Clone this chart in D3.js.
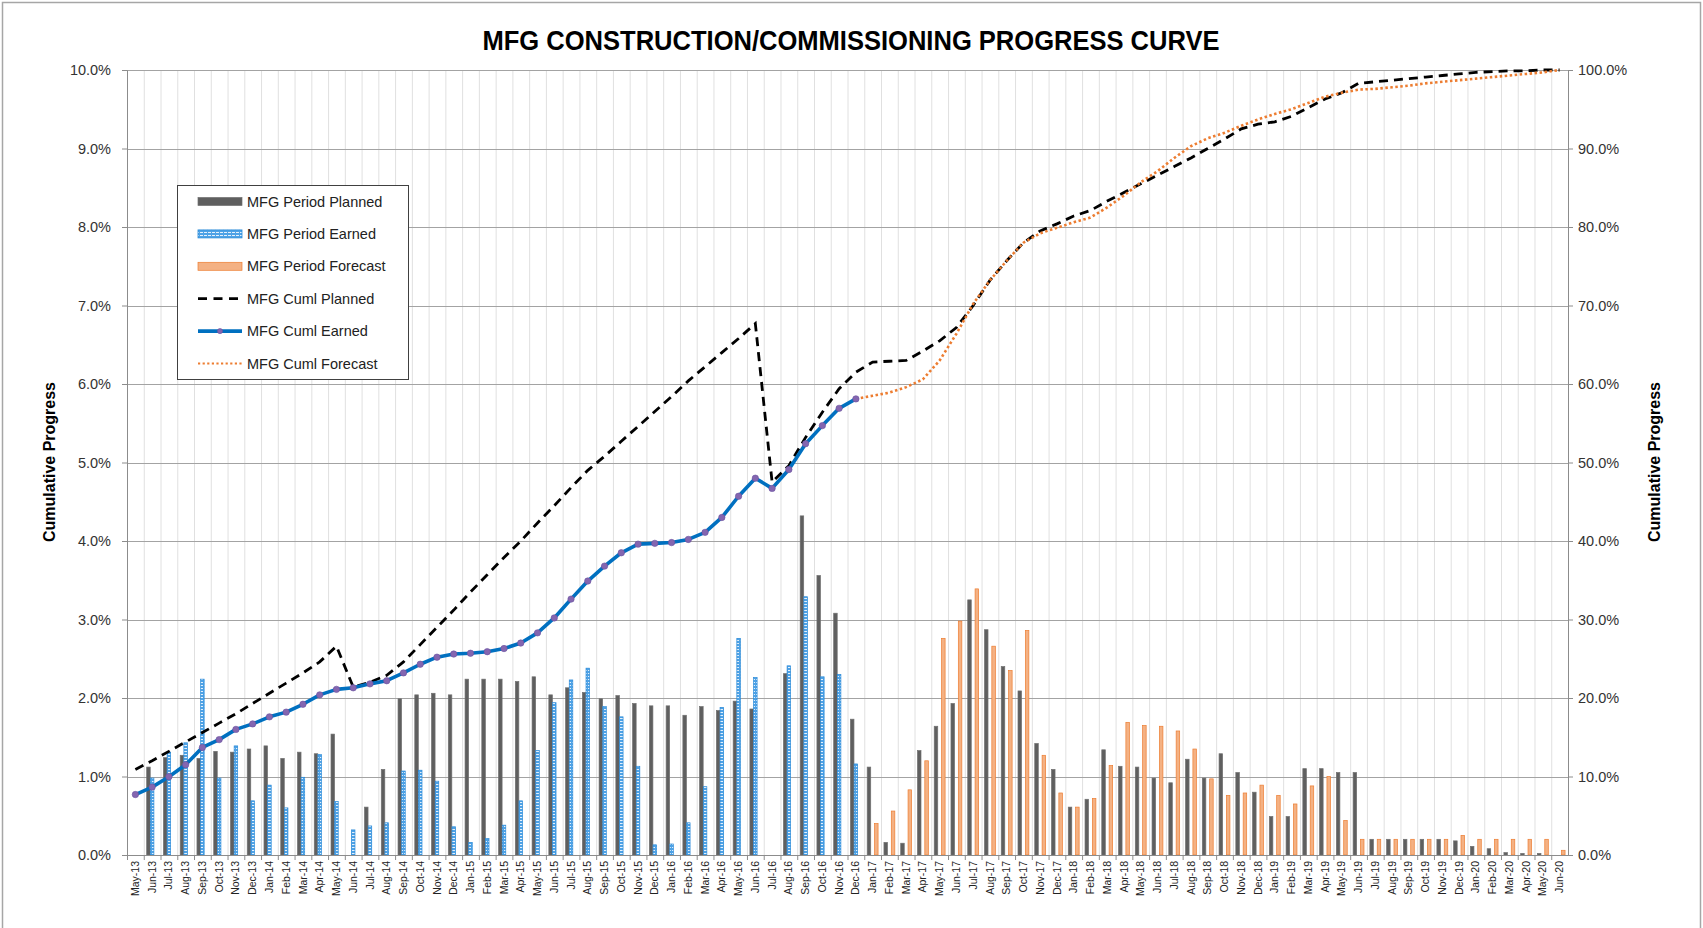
<!DOCTYPE html>
<html>
<head>
<meta charset="utf-8">
<script src="https://cdn.jsdelivr.net/npm/d3@7"></script>
<style>
body { margin: 0; background: #fff; }
svg { display: block; font-family: 'Liberation Sans', Arial, sans-serif; }
</style>
</head>
<body>
<script>
// month categories
const months = [
	'May-13','Jun-13','Jul-13','Aug-13','Sep-13','Oct-13','Nov-13','Dec-13',
	'Jan-14','Feb-14','Mar-14','Apr-14','May-14','Jun-14','Jul-14','Aug-14','Sep-14','Oct-14','Nov-14','Dec-14',
	'Jan-15','Feb-15','Mar-15','Apr-15','May-15','Jun-15','Jul-15','Aug-15','Sep-15','Oct-15','Nov-15','Dec-15',
	'Jan-16','Feb-16','Mar-16','Apr-16','May-16','Jun-16','Jul-16','Aug-16','Sep-16','Oct-16','Nov-16','Dec-16',
	'Jan-17','Feb-17','Mar-17','Apr-17','May-17','Jun-17','Jul-17','Aug-17','Sep-17','Oct-17','Nov-17','Dec-17',
	'Jan-18','Feb-18','Mar-18','Apr-18','May-18','Jun-18','Jul-18','Aug-18','Sep-18','Oct-18','Nov-18','Dec-18',
	'Jan-19','Feb-19','Mar-19','Apr-19','May-19','Jun-19','Jul-19','Aug-19','Sep-19','Oct-19','Nov-19','Dec-19',
	'Jan-20','Feb-20','Mar-20','Apr-20','May-20','Jun-20'
]

// period values, % (left axis)
const periodPlanned = [
	null,1.12,1.24,1.27,1.23,1.32,1.31,1.35,
	1.39,1.23,1.31,1.29,1.54,null,0.61,1.09,1.99,2.04,2.06,2.04,
	2.24,2.24,2.24,2.21,2.27,2.04,2.13,2.07,1.99,2.03,1.93,1.90,
	1.90,1.78,1.89,1.84,1.96,1.86,null,2.31,4.32,3.56,3.08,1.73,
	1.12,0.16,0.15,1.33,1.64,1.93,3.25,2.87,2.40,2.09,1.42,1.09,
	0.61,0.71,1.34,1.13,1.12,0.98,0.92,1.22,0.98,1.29,1.05,0.80,
	0.49,0.49,1.10,1.10,1.05,1.05,0.20,0.20,0.20,0.20,0.20,0.18,
	0.11,0.08,0.03,0.02,0.02,null
]
const periodEarned = [
	null,0.98,1.31,1.43,2.24,0.98,1.39,0.69,
	0.89,0.60,0.99,1.28,0.68,0.32,0.37,0.41,1.07,1.08,0.94,0.36,
	0.16,0.21,0.38,0.69,1.33,1.94,2.23,2.38,1.89,1.76,1.13,0.13,
	0.14,0.41,0.87,1.88,2.76,2.26,null,2.41,3.29,2.27,2.30,1.16,
	null,null,null,null,null,null,null,null,null,null,null,null,
	null,null,null,null,null,null,null,null,null,null,null,null,
	null,null,null,null,null,null,null,null,null,null,null,null,
	null,null,null,null,null,null
]
const periodForecast = [
	null,null,null,null,null,null,null,null,
	null,null,null,null,null,null,null,null,null,null,null,null,
	null,null,null,null,null,null,null,null,null,null,null,null,
	null,null,null,null,null,null,null,null,null,null,null,null,
	0.40,0.56,0.83,1.20,2.76,2.98,3.39,2.66,2.35,2.86,1.27,0.79,
	0.61,0.72,1.14,1.69,1.65,1.64,1.58,1.35,0.97,0.76,0.79,0.89,
	0.76,0.65,0.88,1.00,0.44,0.20,0.20,0.20,0.20,0.20,0.20,0.25,
	0.20,0.20,0.20,0.20,0.20,0.06
]

// cumulative values, % (right axis)
const cumlPlanned = [
	10.9,12.0,13.2,14.4,15.6,16.8,18.0,19.3,
	20.6,21.9,23.2,24.6,26.6,21.4,22.0,22.9,24.6,26.8,29.0,31.2,
	33.5,35.7,37.9,40.0,42.3,44.5,46.8,49.0,50.8,52.7,54.6,56.5,
	58.4,60.4,62.2,64.0,65.8,67.7,47.5,49.6,53.2,56.4,59.4,61.5,
	62.8,62.9,63.0,64.2,65.5,67.2,70.0,73.2,75.7,78.0,79.5,80.4,
	81.4,82.1,83.3,84.4,85.5,86.6,87.7,88.8,90.0,91.2,92.5,93.1,
	93.4,94.1,95.2,96.3,97.1,98.3,98.5,98.7,98.9,99.1,99.3,99.5,
	99.7,99.8,99.9,99.9,100,100
]
const cumlEarned = [
	7.7,8.65,9.97,11.5,13.7,14.7,16.0,16.7,
	17.6,18.2,19.2,20.4,21.1,21.3,21.8,22.2,23.2,24.3,25.2,25.6,
	25.7,25.9,26.3,27.0,28.3,30.2,32.6,34.9,36.8,38.5,39.6,39.7,
	39.8,40.2,41.1,43.0,45.7,48.0,46.7,49.1,52.4,54.7,56.9,58.1,
	null,null,null,null,null,null,null,null,null,null,null,null,
	null,null,null,null,null,null,null,null,null,null,null,null,
	null,null,null,null,null,null,null,null,null,null,null,null,
	null,null,null,null,null,null
]
const cumlForecast = [
	null,null,null,null,null,null,null,null,
	null,null,null,null,null,null,null,null,null,null,null,null,
	null,null,null,null,null,null,null,null,null,null,null,null,
	null,null,null,null,null,null,null,null,null,null,null,58.1,
	58.5,58.9,59.6,60.6,63.0,66.4,70.2,73.2,75.7,78.0,79.2,79.9,
	80.6,81.2,82.5,84.0,85.7,87.1,88.8,90.3,91.3,92.0,92.9,93.7,
	94.4,95.0,95.8,96.6,97.1,97.5,97.6,97.8,98.0,98.3,98.5,98.7,
	98.9,99.1,99.3,99.5,99.7,100
]

const leftTicks = [0,1,2,3,4,5,6,7,8,9,10]
const rightTicks = [0,10,20,30,40,50,60,70,80,90,100]
const legendNames = ['MFG Period Planned','MFG Period Earned','MFG Period Forecast','MFG Cuml Planned','MFG Cuml Earned','MFG Cuml Forecast']

const width = 1703
const height = 928
const plot = {left: 127, right: 1568, top: 70, bottom: 855}

const svg = d3.select('body').append('svg')
	.attr('width', width)
	.attr('height', height)

const defs = svg.append('defs')
const pat = defs.append('pattern')
	.attr('id', 'earnedFill')
	.attr('patternUnits', 'userSpaceOnUse')
	.attr('width', 4)
	.attr('height', 3)
pat.append('rect').attr('width', 4).attr('height', 3).attr('fill', '#4ea2e6')
pat.append('rect').attr('y', 1).attr('width', 3).attr('height', 1).attr('fill', '#e4f1fc')

// chart area border
svg.append('rect')
	.attr('x', 2.5).attr('y', 2.5)
	.attr('width', width - 5).attr('height', height + 10)
	.attr('fill', 'none')
	.attr('stroke', '#a6a6a6')
	.attr('stroke-width', 1.5)

const x = d3.scaleBand()
	.domain(months)
	.range([plot.left, plot.right])

const sub = d3.scaleBand()
	.domain(['planned', 'earned', 'forecast'])
	.range([0, x.bandwidth()])
	.paddingInner(0.04)
	.paddingOuter(0.8)

const yL = d3.scaleLinear().domain([0, 10]).range([plot.bottom, plot.top])
const yR = d3.scaleLinear().domain([0, 100]).range([plot.bottom, plot.top])

// vertical category gridlines
svg.append('g')
	.selectAll('line')
	.data(months.slice(1))
	.join('line')
		.attr('x1', d => x(d) + 0.5)
		.attr('x2', d => x(d) + 0.5)
		.attr('y1', plot.top)
		.attr('y2', plot.bottom)
		.attr('stroke', '#e0e0e0')
		.attr('stroke-width', 1)

// horizontal gridlines
svg.append('g')
	.selectAll('line')
	.data(leftTicks.slice(1))
	.join('line')
		.attr('x1', plot.left)
		.attr('x2', plot.right)
		.attr('y1', d => Math.round(yL(d)) + 0.5)
		.attr('y2', d => Math.round(yL(d)) + 0.5)
		.attr('stroke', '#a3a3a3')
		.attr('stroke-width', 1.2)

// bars
const rows = months.map((m, i) => ({
	m,
	planned: periodPlanned[i],
	earned: periodEarned[i],
	forecast: periodForecast[i]
}))

const barStyle = {
	planned: {fill: '#5f5f5f', stroke: '#707070'},
	earned: {fill: 'url(#earnedFill)', stroke: '#2a8ad8'},
	forecast: {fill: '#f4b183', stroke: '#ed7d31'}
}

;['planned', 'earned', 'forecast'].forEach(key => {
	svg.append('g')
		.selectAll('rect')
		.data(rows.filter(d => d[key] != null && d[key] > 0))
		.join('rect')
			.attr('x', d => x(d.m) + sub(key))
			.attr('width', sub.bandwidth())
			.attr('y', d => yL(d[key]))
			.attr('height', d => yL(0) - yL(d[key]))
			.attr('fill', barStyle[key].fill)
			.attr('stroke', barStyle[key].stroke)
			.attr('stroke-width', 0.7)
})

// axes
const xAxis = d3.axisBottom(x).tickSize(0).tickPadding(0)
const gx = svg.append('g')
	.attr('transform', `translate(0,${plot.bottom})`)
	.call(xAxis)
gx.select('.domain').attr('stroke', '#8c8c8c')
gx.selectAll('text')
	.attr('transform', 'rotate(-90)')
	.attr('text-anchor', 'end')
	.attr('x', -6)
	.attr('y', 0)
	.attr('dy', '0.34em')
	.attr('font-size', 10.5)
	.attr('font-family', "'Liberation Sans', Arial, sans-serif")
	.attr('fill', '#222')

svg.append('g')
	.selectAll('line')
	.data(months)
	.join('line')
		.attr('x1', d => x(d) + 0.5)
		.attr('x2', d => x(d) + 0.5)
		.attr('y1', plot.bottom)
		.attr('y2', plot.bottom + 5)
		.attr('stroke', '#8c8c8c')

const gl = svg.append('g')
	.attr('transform', `translate(${plot.left},0)`)
	.call(d3.axisLeft(yL).tickValues(leftTicks).tickFormat(d => d.toFixed(1) + '%').tickSize(5).tickPadding(11))
const gr = svg.append('g')
	.attr('transform', `translate(${plot.right},0)`)
	.call(d3.axisRight(yR).tickValues(rightTicks).tickFormat(d => d.toFixed(1) + '%').tickSize(5).tickPadding(5))

;[gl, gr].forEach(g => {
	g.select('.domain').attr('stroke', '#8c8c8c')
	g.selectAll('.tick line').attr('stroke', '#8c8c8c')
	g.selectAll('text')
		.attr('font-size', 14.5)
		.attr('font-family', "'Liberation Sans', Arial, sans-serif")
		.attr('fill', '#333')
})

// cumulative lines
const cx = i => x(months[i]) + x.bandwidth() / 2
const line = d3.line()
	.defined(d => d.v != null)
	.x(d => cx(d.i))
	.y(d => yR(d.v))

const toPts = arr => arr.map((v, i) => ({i, v}))

svg.append('path')
	.datum(toPts(cumlPlanned))
	.attr('d', line)
	.attr('fill', 'none')
	.attr('stroke', '#000')
	.attr('stroke-width', 2.8)
	.attr('stroke-dasharray', '9,6')

svg.append('path')
	.datum(toPts(cumlForecast))
	.attr('d', line)
	.attr('fill', 'none')
	.attr('stroke', '#ed7d31')
	.attr('stroke-width', 2.6)
	.attr('stroke-dasharray', '2.5,2.5')

svg.append('path')
	.datum(toPts(cumlEarned))
	.attr('d', line)
	.attr('fill', 'none')
	.attr('stroke', '#0070c0')
	.attr('stroke-width', 3.6)
	.attr('stroke-linejoin', 'round')

svg.append('g')
	.selectAll('circle')
	.data(toPts(cumlEarned).filter(d => d.v != null))
	.join('circle')
		.attr('cx', d => cx(d.i))
		.attr('cy', d => yR(d.v))
		.attr('r', 3.2)
		.attr('fill', '#8466b0')
		.attr('stroke', '#6a52a0')
		.attr('stroke-width', 0.6)

// title
svg.append('text')
	.attr('x', 851)
	.attr('y', 50)
	.attr('text-anchor', 'middle')
	.attr('font-size', 28)
	.attr('font-weight', 'bold')
	.attr('textLength', 737)
	.attr('lengthAdjust', 'spacingAndGlyphs')
	.attr('fill', '#000')
	.text('MFG CONSTRUCTION/COMMISSIONING PROGRESS CURVE')

// axis titles
svg.append('text')
	.attr('transform', 'translate(55,462) rotate(-90)')
	.attr('text-anchor', 'middle')
	.attr('font-size', 16)
	.attr('font-weight', 'bold')
	.text('Cumulative Progress')

svg.append('text')
	.attr('transform', 'translate(1660,462) rotate(-90)')
	.attr('text-anchor', 'middle')
	.attr('font-size', 16)
	.attr('font-weight', 'bold')
	.text('Cumulative Progress')

// legend
const legend = svg.append('g')
legend.append('rect')
	.attr('x', 177.5).attr('y', 185.5)
	.attr('width', 231).attr('height', 194)
	.attr('fill', '#fff')
	.attr('stroke', '#404040')
	.attr('stroke-width', 1)

const ly = i => 201.5 + i * 32.4
const sx0 = 198
const sx1 = 242

legendNames.forEach((name, i) => {
	const yy = ly(i)
	if (i === 0) {
		legend.append('rect').attr('x', sx0).attr('y', yy - 4).attr('width', sx1 - sx0).attr('height', 8)
			.attr('fill', barStyle.planned.fill).attr('stroke', barStyle.planned.stroke).attr('stroke-width', 0.7)
	} else if (i === 1) {
		legend.append('rect').attr('x', sx0).attr('y', yy - 4).attr('width', sx1 - sx0).attr('height', 8)
			.attr('fill', barStyle.earned.fill).attr('stroke', barStyle.earned.stroke).attr('stroke-width', 0.8)
	} else if (i === 2) {
		legend.append('rect').attr('x', sx0).attr('y', yy - 4).attr('width', sx1 - sx0).attr('height', 8)
			.attr('fill', barStyle.forecast.fill).attr('stroke', barStyle.forecast.stroke).attr('stroke-width', 0.7)
	} else if (i === 3) {
		legend.append('line').attr('x1', sx0).attr('x2', sx1).attr('y1', yy).attr('y2', yy)
			.attr('stroke', '#000').attr('stroke-width', 2.8).attr('stroke-dasharray', '9,6.5')
	} else if (i === 4) {
		legend.append('line').attr('x1', sx0).attr('x2', sx1).attr('y1', yy).attr('y2', yy)
			.attr('stroke', '#0070c0').attr('stroke-width', 3.6)
		legend.append('circle').attr('cx', (sx0 + sx1) / 2).attr('cy', yy).attr('r', 2.6)
			.attr('fill', '#8466b0').attr('stroke', '#6a52a0').attr('stroke-width', 0.6)
	} else {
		legend.append('line').attr('x1', sx0).attr('x2', sx1).attr('y1', yy).attr('y2', yy)
			.attr('stroke', '#ed7d31').attr('stroke-width', 2.2).attr('stroke-dasharray', '2.2,2.4')
	}
	legend.append('text')
		.attr('x', 247)
		.attr('y', yy)
		.attr('dy', '0.35em')
		.attr('font-size', 14.5)
		.attr('fill', '#222')
		.text(name)
})
</script>
</body>
</html>
